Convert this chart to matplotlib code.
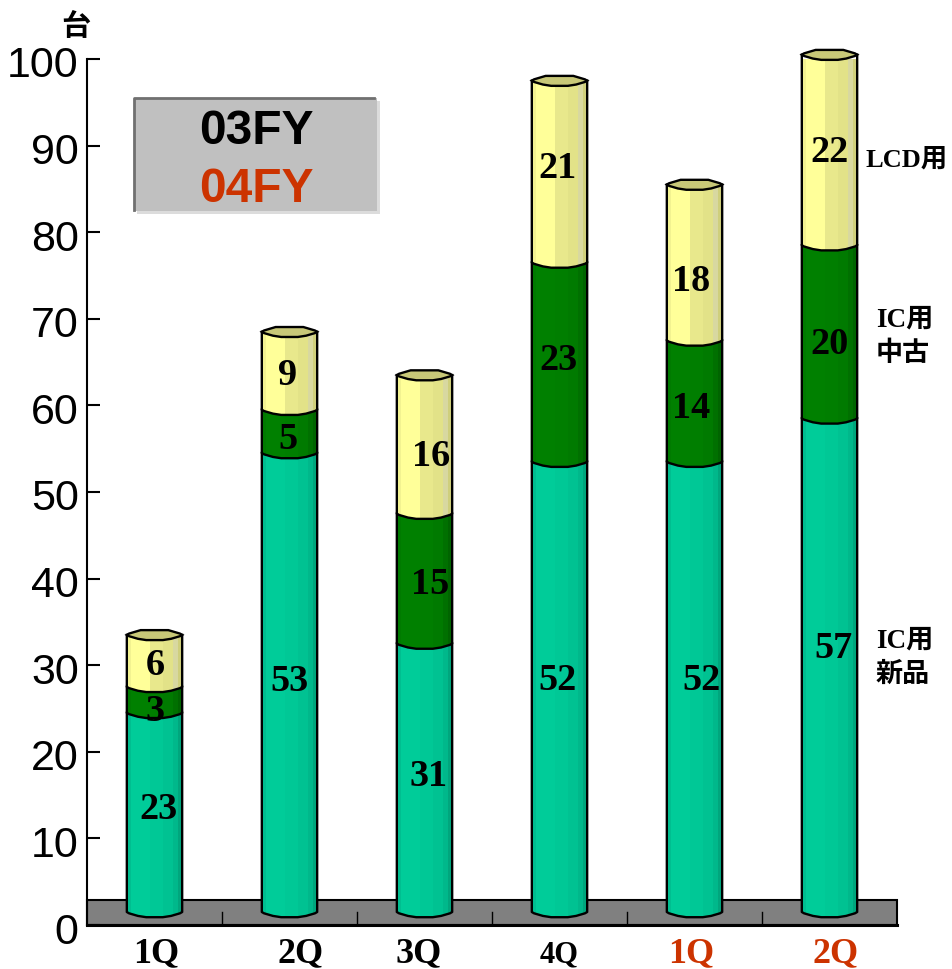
import matplotlib
matplotlib.use("Agg")
import matplotlib.pyplot as plt
import numpy as np
from matplotlib.patches import Polygon, Rectangle
from matplotlib.lines import Line2D
from matplotlib.transforms import ScaledTranslation

W, H = 953, 970

# ---- data ----
quarters = ["1Q", "2Q", "3Q", "4Q", "1Q", "2Q"]
ic_new = [23, 53, 31, 52, 52, 57]
ic_used = [3, 5, 15, 23, 14, 20]
lcd = [6, 9, 16, 21, 18, 22]
y_ticks = [0, 10, 20, 30, 40, 50, 60, 70, 80, 90, 100]

# ---- styling ----
BASE = 1.5
BAR_W = 0.41
LW = 1.7
BLACK, RED = "#000000", "#CC3300"
label_colors = [BLACK, BLACK, BLACK, BLACK, RED, RED]
label_dx = [2, 11, -6, 0, -3, 6]
label_dy = [0, 0, 0, -3, 0, 0]
label_size = [26, 26, 26, 22, 26, 26]
serif = ["Liberation Serif", "Noto Sans CJK JP"]
sans = ["Liberation Sans", "DejaVu Sans"]
shades = {
    "teal": ["#00BE90", "#00CC99", "#00C896", "#00C292", "#00B88B", "#00A67D"],
    "green": ["#007A00", "#008000", "#007E00", "#007A00", "#007000", "#006400"],
    "yellow": ["#F2F291", "#FFFF99", "#E8E88C", "#E2E288", "#D8D8A0", "#CFCF7C"],
}
stops = [0, 0.08, 0.42, 0.66, 0.84, 0.93, 1]
CAP = "#C8C878"
# value label nudges in pixels (dx, dy up), per quarter: new, used, lcd
nudges = [
    [(3.5, 4), (1, -11), (1, -4)],
    [(0, 2.5), (-1.5, -7.6), (-1.5, -4)],
    [(4.5, 2), (5.5, -5.4), (6.5, -11.6)],
    [(-1.5, 7), (-1.5, 3), (-1.5, 3.6)],
    [(7.5, 7), (-3.5, -6), (-3.5, -17.5)],
    [(3.5, 18), (0.5, -12), (0.5, -2)],
]

plt.rcParams["font.family"] = sans
fig = plt.figure(figsize=(W / 100, H / 100), dpi=100)
ax = fig.add_axes([87 / W, 1 - 926 / H, (897 - 87) / W, (926 - 60) / H])
ax.set_xlim(0, 6)
ax.set_ylim(0, 100)


def fx(x):
    return x / W


def fy(y):
    return 1 - y / H


# floor slab
ax.add_patch(Rectangle((0, 0), 6, 2.9, fc="#808080", ec="black", lw=1.5, zorder=1, clip_on=False))
for i in range(1, 6):
    ax.plot([i, i], [0, 1.5], color="black", lw=1, zorder=1.5)

PROFILE_T = np.array([0, 0.04, 0.2, 0.35, 0.65, 0.8, 0.96, 1])
PROFILE_D = np.array([0, -0.15, -0.45, -0.6, -0.6, -0.45, -0.15, 0])
BACK_T = np.array([1, 0.96, 0.75, 0.25, 0.04, 0])
BACK_D = np.array([0, 0.15, 0.55, 0.55, 0.15, 0])


def segment(cx, y0, y1, kind, z):
    x0 = cx - BAR_W / 2
    xs = np.r_[x0 + PROFILE_T * BAR_W, x0 + BAR_W, x0]
    ys = np.r_[y0 + PROFILE_D, y1, y1]
    clip = Polygon(np.c_[xs, ys], closed=True, fc="none", ec="none", zorder=z, clip_on=False)
    ax.add_patch(clip)
    for j, col in enumerate(shades[kind]):
        a, b = x0 + stops[j] * BAR_W, x0 + stops[j + 1] * BAR_W
        r = Rectangle((a, y0 - 1), b - a + 0.002, y1 - y0 + 1, fc=col, ec="none", zorder=z)
        ax.add_patch(r)
        r.set_clip_path(clip)
    # outline: sides and lower edge only
    ax.plot(np.r_[x0, xs[:-2], x0 + BAR_W], np.r_[y1, ys[:-2], y1], color="black", lw=LW,
            zorder=z + 0.05, clip_on=False, solid_joinstyle="round")


for i, q in enumerate(quarters):
    cx = i + 0.5
    bottoms = BASE
    for k, (kind, val) in enumerate(zip(["teal", "green", "yellow"], [ic_new[i], ic_used[i], lcd[i]])):
        top = bottoms + val
        segment(cx, bottoms, top, kind, 2 + k * 0.1)
        bottoms = top
    x0 = cx - BAR_W / 2
    xs = np.r_[x0 + PROFILE_T * BAR_W, x0 + BACK_T * BAR_W]
    ys = np.r_[bottoms + PROFILE_D, bottoms + BACK_D]
    ax.add_patch(Polygon(np.c_[xs, ys], closed=True, fc=CAP, ec="black", lw=LW, zorder=3.5, clip_on=False))

    # value labels
    low = BASE
    for val, (dx, dy) in zip([ic_new[i], ic_used[i], lcd[i]], nudges[i]):
        ax.annotate(str(val), xy=(cx, low + val / 2), xytext=(dx * 0.72, dy * 0.72),
                    textcoords="offset points", ha="center", va="center",
                    fontsize=27.5, fontweight="bold", family=serif, color="black", zorder=5)
        low += val

# axes
for s in ["top", "right"]:
    ax.spines[s].set_visible(False)
ax.spines["left"].set_linewidth(1.5)
ax.spines["bottom"].set_linewidth(2.2)
ax.set_yticks(y_ticks)
ax.tick_params(axis="y", direction="in", length=9.4, width=1.5, pad=6, labelsize=31)
for t in ax.get_yticklabels():
    t.set_family(sans)
    t.set_transform(t.get_transform() + ScaledTranslation(0, -2 / 100, fig.dpi_scale_trans))
ax.set_xticks([i + 0.5 for i in range(6)])
ax.set_xticklabels(quarters)
ax.tick_params(axis="x", length=0, pad=8)
for lbl, col, dx, dy, size in zip(ax.get_xticklabels(), label_colors, label_dx, label_dy, label_size):
    lbl.set_color(col)
    lbl.set_fontsize(size)
    lbl.set_fontweight("bold")
    lbl.set_family(serif)
    lbl.set_transform(lbl.get_transform() + ScaledTranslation(dx / 100, dy / 100, fig.dpi_scale_trans))

# unit
fig.text(fx(76), fy(26), "台", ha="center", va="center", fontsize=21, fontweight="bold", family="Noto Sans CJK JP")

# fiscal year legend box
fig.add_artist(Rectangle((fx(137), fy(215)), 243 / W, 113 / H, fc="#DCDCDC", ec="none", transform=fig.transFigure))
fig.add_artist(Rectangle((fx(134), fy(212)), 243 / W, 113 / H, fc="#C0C0C0", ec="none", transform=fig.transFigure))
fig.add_artist(Line2D([fx(134), fx(134), fx(374)], [fy(211), fy(99), fy(99)], color="#707070", lw=2, transform=fig.transFigure))
fig.text(fx(256), fy(132), "03FY", ha="center", va="center", fontsize=34.5, fontweight="bold", color=BLACK, family=sans)
fig.text(fx(256), fy(190), "04FY", ha="center", va="center", fontsize=34.5, fontweight="bold", color=RED, family=sans)

# series names
for txt, x, y, size in [("LCD用", 866, 160, 19), ("IC用", 876, 320, 19.5), ("中古", 876, 354, 19.5),
                        ("IC用", 876, 641, 19.5), ("新品", 876, 675, 19.5)]:
    fig.text(fx(x), fy(y), txt, ha="left", va="center", fontsize=size, fontweight="bold", family=serif)

fig.savefig("out.png", dpi=100)
